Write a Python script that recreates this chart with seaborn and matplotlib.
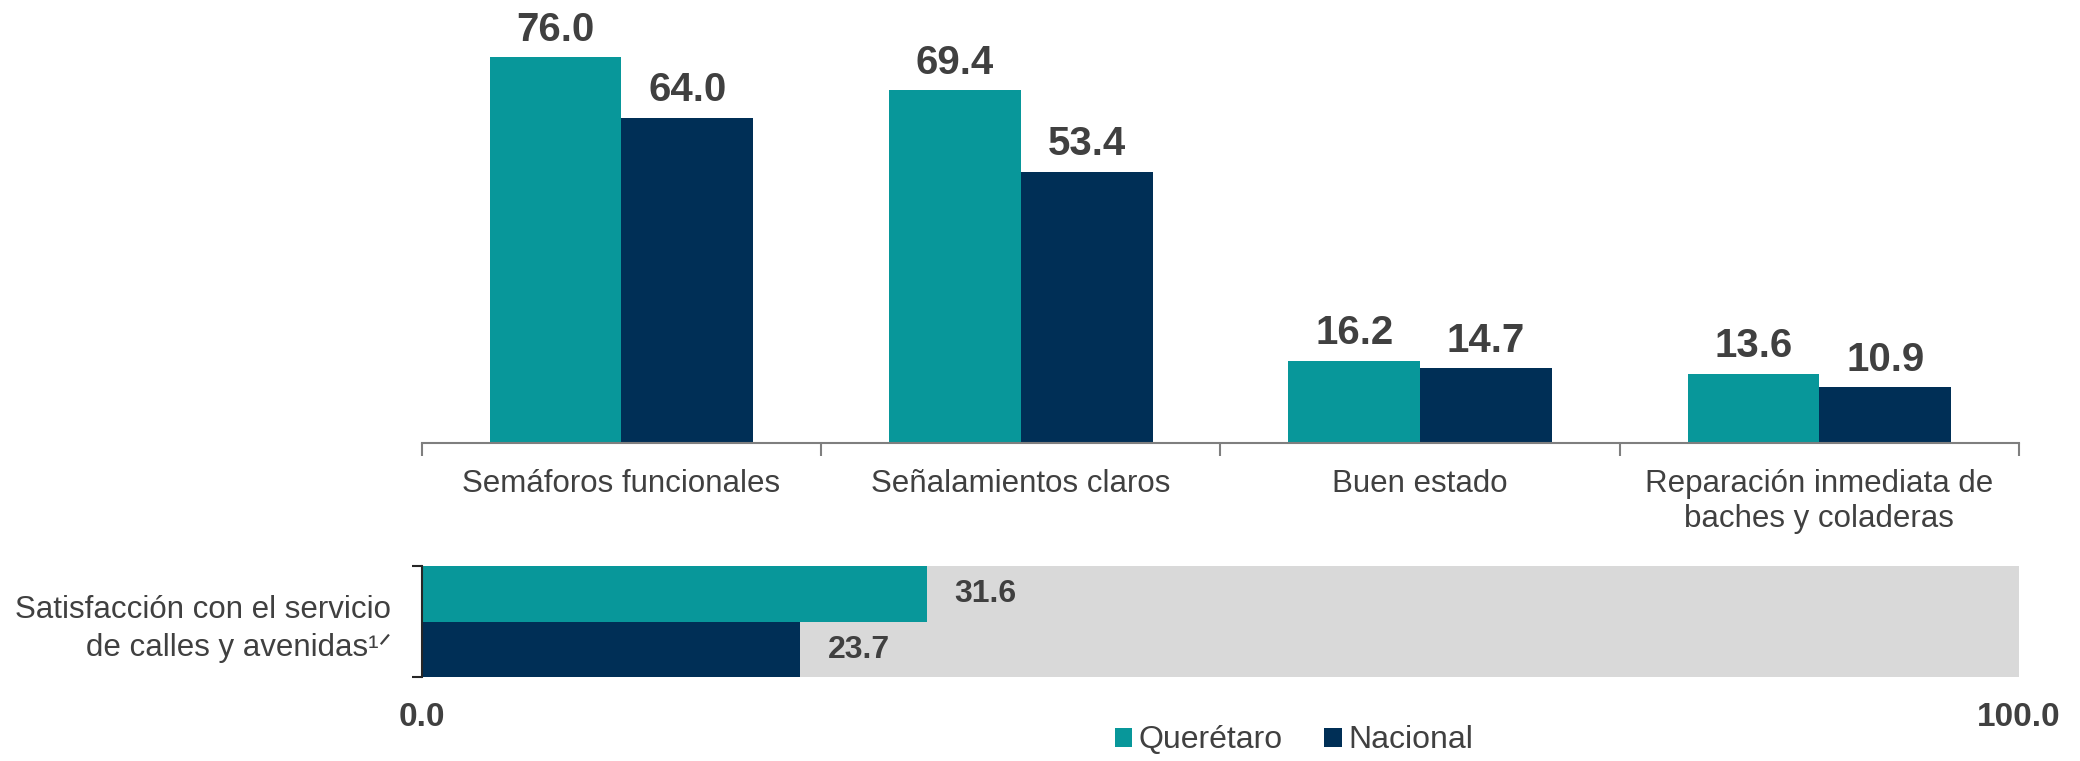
import matplotlib
matplotlib.use("Agg")
import matplotlib.pyplot as plt
import seaborn as sns
import pandas as pd

# ---- data ----
categorias = ["Semáforos funcionales", "Señalamientos claros", "Buen estado",
              "Reparación inmediata de\nbaches y coladeras"]
series = ["Querétaro", "Nacional"]
queretaro = [76.0, 69.4, 16.2, 13.6]
nacional = [64.0, 53.4, 14.7, 10.9]
satisf_cat = ["Satisfacción con el servicio\nde calles y avenidas¹ᐟ"]
satisf_queretaro = [31.6]
satisf_nacional = [23.7]
satisf_total = [100.0]
eje_ticks = [0.0, 100.0]
eje_labels = ["0.0", "100.0"]

colores = {"Querétaro": "#08979A", "Nacional": "#002F56"}
gris = "#D9D9D9"
texto = "#404040"

sns.set_theme(style="white")
plt.rcParams["font.family"] = ["Liberation Sans", "DejaVu Sans"]

df_top = pd.DataFrame({
    "categoria": categorias * 2,
    "serie": [series[0]] * len(categorias) + [series[1]] * len(categorias),
    "valor": queretaro + nacional,
})
df_sat = pd.DataFrame({
    "categoria": satisf_cat * 2,
    "serie": series,
    "valor": satisf_queretaro + satisf_nacional,
})
df_bg = pd.DataFrame({"categoria": satisf_cat, "valor": satisf_total})

fig = plt.figure(figsize=(20.8, 7.61), dpi=100)

# ---- top chart ----
ax = fig.add_axes([0.2028, 0.4181, 0.7679, 0.5819])
sns.barplot(data=df_top, x="categoria", y="valor", hue="serie", order=categorias,
            hue_order=series, palette=colores, width=0.66, saturation=1,
            edgecolor="none", ax=ax)
handles, labels = ax.get_legend_handles_labels()
ax.get_legend().remove()
for c in ax.containers:
    ax.bar_label(c, fmt="%.1f", padding=6, fontsize=29, fontweight="bold", color=texto)
ax.set_ylim(0, 87.2)
ax.set_xlim(-0.5, len(categorias) - 0.5)
ax.set_yticks([])
ax.set_xlabel("")
ax.set_ylabel("")
for s in ["left", "top", "right"]:
    ax.spines[s].set_visible(False)
ax.spines["bottom"].set_color("#7F7F7F")
ax.spines["bottom"].set_linewidth(1.5)
ax.set_xticks([i - 0.5 for i in range(len(categorias) + 1)], minor=True)
ax.tick_params(axis="x", which="minor", length=9, width=1.5, color="#7F7F7F", direction="out", bottom=True)
ax.tick_params(axis="x", which="major", length=0, pad=19, labelsize=22.5, labelcolor=texto)

# ---- bottom chart ----
ax2 = fig.add_axes([0.2028, 0.1098, 0.7679, 0.1463])
sns.barplot(data=df_bg, x="valor", y="categoria", color=gris, width=1, saturation=1,
            edgecolor="none", ax=ax2)
sns.barplot(data=df_sat, x="valor", y="categoria", hue="serie", hue_order=series,
            palette=colores, width=1, saturation=1, legend=False, edgecolor="none", ax=ax2)
for c in ax2.containers[1:]:
    ax2.bar_label(c, fmt="%.1f", padding=20, fontsize=23, fontweight="bold", color=texto)
ax2.set_xlim(0, 100)
ax2.set_ylim(0.5, -0.5)
ax2.set_xlabel("")
ax2.set_ylabel("")
ax2.set_xticks(eje_ticks)
ax2.set_xticklabels(eje_labels, fontweight="bold")
ax2.tick_params(axis="x", length=0, pad=18, labelsize=24, labelcolor=texto)
ax2.set_yticks([-0.5, 0.5], minor=True)
ax2.tick_params(axis="y", which="minor", length=7, width=1.5, color="#262626", direction="out", left=True)
ax2.tick_params(axis="y", which="major", length=0, pad=22, labelsize=22.5, labelcolor=texto)
for lab in ax2.get_yticklabels():
    lab.set_horizontalalignment("right")
    lab.set_multialignment("right")
    lab.set_linespacing(1.35)
for s in ["top", "right", "bottom"]:
    ax2.spines[s].set_visible(False)
ax2.spines["left"].set_color("#262626")
ax2.spines["left"].set_linewidth(1.5)

fig.legend(handles, labels, loc="center", bbox_to_anchor=(0.622, 0.027), ncol=2,
           frameon=False, fontsize=23, handlelength=0.55, handleheight=0.55,
           handletextpad=0.2, columnspacing=1.3, labelcolor=texto,
           borderpad=0, borderaxespad=0)

fig.savefig("out.png", dpi=100)
